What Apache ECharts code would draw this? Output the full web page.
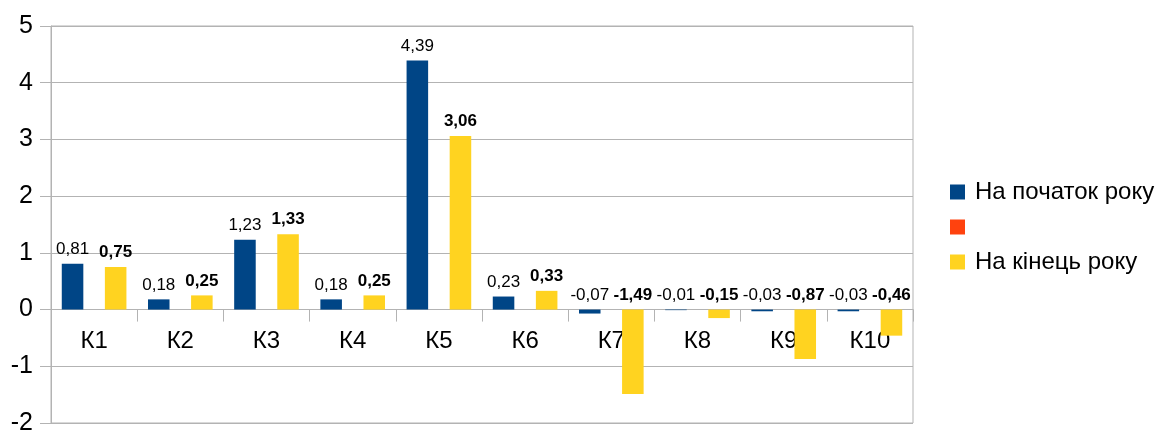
<!DOCTYPE html>
<html>
<head>
<meta charset="utf-8">
<script src="https://cdn.jsdelivr.net/npm/echarts@6/dist/echarts.min.js"></script>
<style>html,body{margin:0;padding:0;background:#fff}#c{width:1165px;height:434px}</style>
</head>
<body>
<div id="c"></div>
<script>
const categories = ['К1','К2','К3','К4','К5','К6','К7','К8','К9','К10'];
const startName = 'На початок року';
const midName = ' ';
const endName = 'На кінець року';
const startValues = [0.81, 0.18, 1.23, 0.18, 4.39, 0.23, -0.07, -0.01, -0.03, -0.03];
const midValues = [null, null, null, null, null, null, null, null, null, null];
const endValues = [0.75, 0.25, 1.33, 0.25, 3.06, 0.33, -1.49, -0.15, -0.87, -0.46];
const yTicks = { min: -2, max: 5, interval: 1 };

const fmt = p => p.value.toFixed(2).replace('.', ',');
const font = '"Liberation Sans", Arial, sans-serif';
const gridTop = 26, gridBottom = 11, H = 434;
const plotH = H - gridTop - gridBottom;
// distance from grid bottom up to the zero line (layout only)
const zeroOffset = -plotH * (0 - yTicks.min) / (yTicks.max - yTicks.min);

const chart = echarts.init(document.getElementById('c'), null, {renderer: 'canvas'});
chart.setOption({
  animation: false,
  textStyle: { fontFamily: font },
  grid: { left: 51, right: 252, top: gridTop, bottom: gridBottom, containLabel: false, outerBoundsMode: 'none',
          show: true, borderColor: '#b3b3b3', borderWidth: 1, z: 0 },
  legend: {
    orient: 'vertical', left: 945, top: 175, itemWidth: 15, itemHeight: 15, itemGap: 11,
    icon: 'rect',
    textStyle: { fontSize: 24, color: '#000', fontFamily: font, padding: [0,0,0,5] },
    data: [startName, midName, endName]
  },
  xAxis: {
    type: 'category', data: categories, position: 'bottom', offset: zeroOffset, z: 0,
    axisLine: { onZero: false, lineStyle: { color: '#b3b3b3' } },
    axisTick: { show: true, length: 12, lineStyle: { color: '#b3b3b3' } },
    axisLabel: { fontSize: 24, color: '#000', margin: 20, fontFamily: font },
    splitLine: { show: false }
  },
  yAxis: {
    type: 'value', min: yTicks.min, max: yTicks.max, interval: yTicks.interval, z: 0,
    axisLine: { show: true, lineStyle: { color: '#b3b3b3' } },
    axisTick: { show: true, length: 11, lineStyle: { color: '#b3b3b3' } },
    axisLabel: { fontSize: 25, color: '#000', margin: 18, fontFamily: font },
    splitLine: { show: true, lineStyle: { color: '#b3b3b3' } }
  },
  series: [
    { name: startName, type: 'bar', data: startValues, barGap: '0%', barCategoryGap: '25%', z: 10,
      itemStyle: { color: '#004586' },
      label: { show: true, position: 'top', distance: 6, formatter: fmt, fontSize: 17, color: '#000', fontFamily: font } },
    { name: midName, type: 'bar', data: midValues, barGap: '0%', barCategoryGap: '25%', z: 10,
      itemStyle: { color: '#ff420e' } },
    { name: endName, type: 'bar', data: endValues, barGap: '0%', barCategoryGap: '25%', z: 10,
      itemStyle: { color: '#ffd320' },
      label: { show: true, position: 'top', distance: 6, formatter: fmt, fontSize: 17, fontWeight: 'bold', color: '#000', fontFamily: font } }
  ]
});
</script>
</body>
</html>
